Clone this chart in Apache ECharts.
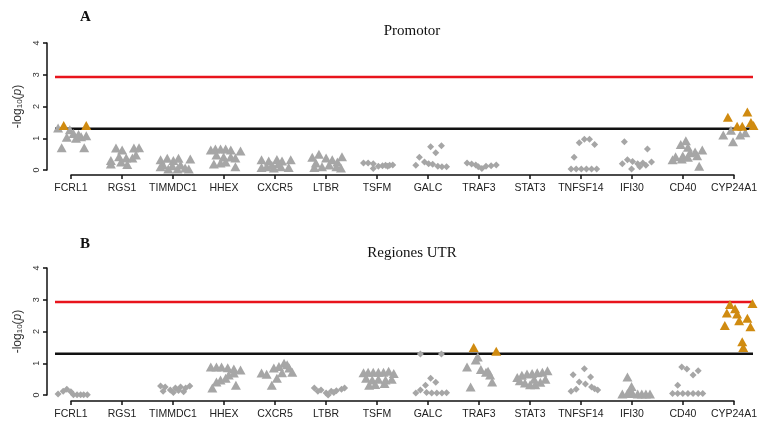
<!DOCTYPE html>
<html>
<head>
<meta charset="utf-8">
<style>
html, body { margin: 0; padding: 0; background: #fff; }
#main { width: 760px; height: 426px; }
</style>
<script src="https://cdn.jsdelivr.net/npm/echarts@6/dist/echarts.min.js"></script>
</head>
<body>
<div id="main"></div>
<script>
// categories and axis ticks
var genes = ['FCRL1','RGS1','TIMMDC1','HHEX','CXCR5','LTBR','TSFM','GALC','TRAF3','STAT3','TNFSF14','IFI30','CD40','CYP24A1'];
var yTicks = [0, 1, 2, 3, 4];
var redLine = 2.93;    // bonferroni threshold
var blackLine = 1.3;   // p = 0.05

// points: [gene, jitter, -log10(p)]
var promTriGray = [
  ['FCRL1',-0.25,1.32],['FCRL1',-0.02,1.27],['FCRL1',0.05,1.15],['FCRL1',-0.08,1.03],['FCRL1',0.1,1.0],
  ['FCRL1',0.2,1.05],['FCRL1',0.3,1.08],['FCRL1',0.15,1.12],['FCRL1',-0.18,0.7],['FCRL1',0.26,0.7],
  ['RGS1',-0.12,0.69],['RGS1',0.0,0.63],['RGS1',0.23,0.69],['RGS1',0.33,0.7],['RGS1',-0.22,0.3],['RGS1',-0.06,0.42],
  ['RGS1',0.08,0.38],['RGS1',0.2,0.38],['RGS1',0.27,0.47],['RGS1',-0.22,0.19],['RGS1',0.1,0.17],['RGS1',-0.02,0.25],
  ['TIMMDC1',-0.25,0.32],['TIMMDC1',-0.12,0.37],['TIMMDC1',0,0.3],['TIMMDC1',0.1,0.37],['TIMMDC1',0.33,0.35],
  ['TIMMDC1',-0.2,0.16],['TIMMDC1',-0.02,0.13],['TIMMDC1',0.14,0.16],['TIMMDC1',0.23,0.06],['TIMMDC1',0.08,0.03],
  ['TIMMDC1',-0.1,0.03],['TIMMDC1',0.3,0.03],['TIMMDC1',-0.25,0.1],
  ['HHEX',-0.27,0.63],['HHEX',-0.18,0.66],['HHEX',-0.08,0.66],['HHEX',0.02,0.66],['HHEX',0.12,0.63],['HHEX',0.31,0.6],
  ['HHEX',-0.16,0.47],['HHEX',-0.02,0.41],['HHEX',0.12,0.41],['HHEX',0.21,0.38],['HHEX',0.02,0.25],['HHEX',-0.21,0.19],
  ['HHEX',-0.08,0.22],['HHEX',0.21,0.1],
  ['CXCR5',-0.28,0.32],['CXCR5',-0.14,0.28],['CXCR5',0.02,0.33],['CXCR5',0.12,0.28],['CXCR5',0.29,0.32],['CXCR5',-0.18,0.1],
  ['CXCR5',-0.04,0.06],['CXCR5',0.1,0.1],['CXCR5',0.25,0.08],['CXCR5',-0.28,0.08],['CXCR5',0.05,0.2],['CXCR5',-0.08,0.15],
  ['LTBR',-0.29,0.4],['LTBR',-0.16,0.5],['LTBR',-0.02,0.38],['LTBR',0.1,0.32],['LTBR',0.29,0.42],['LTBR',-0.22,0.22],
  ['LTBR',-0.1,0.1],['LTBR',0.04,0.16],['LTBR',0.18,0.1],['LTBR',0.27,0.06],['LTBR',-0.25,0.08],['LTBR',0.2,0.25],
  ['CD40',0.0,0.92],['CD40',-0.1,0.8],['CD40',0.04,0.72],['CD40',0.18,0.57],['CD40',0.32,0.63],['CD40',-0.2,0.42],
  ['CD40',-0.06,0.44],['CD40',0.08,0.54],['CD40',0.22,0.45],['CD40',-0.26,0.32],['CD40',-0.08,0.35],['CD40',0.04,0.4],
  ['CD40',0.26,0.12],
  ['CYP24A1',-0.27,1.1],['CYP24A1',-0.12,1.25],['CYP24A1',-0.08,0.89],['CYP24A1',0.06,1.1],['CYP24A1',0.16,1.17]
];
var promDiaGray = [
  ['TSFM',-0.29,0.22],['TSFM',-0.2,0.22],['TSFM',-0.1,0.2],['TSFM',-0.1,0.05],['TSFM',0.0,0.12],['TSFM',0.08,0.13],
  ['TSFM',0.14,0.15],['TSFM',0.22,0.15],['TSFM',0.28,0.16],['TSFM',0.18,0.12],
  ['GALC',0.02,0.73],['GALC',0.23,0.76],['GALC',0.12,0.54],['GALC',-0.2,0.4],['GALC',-0.1,0.25],['GALC',-0.27,0.15],
  ['GALC',-0.02,0.2],['GALC',0.06,0.18],['GALC',0.16,0.12],['GALC',0.24,0.1],['GALC',0.33,0.1],
  ['TRAF3',-0.27,0.22],['TRAF3',-0.18,0.19],['TRAF3',-0.05,0.1],['TRAF3',0.02,0.05],['TRAF3',0.1,0.12],
  ['TRAF3',0.2,0.13],['TRAF3',0.3,0.16],['TRAF3',-0.1,0.16],
  ['TNFSF14',-0.08,0.86],['TNFSF14',0.02,0.97],['TNFSF14',0.12,0.97],['TNFSF14',0.22,0.8],['TNFSF14',-0.18,0.4],
  ['TNFSF14',-0.24,0.03],['TNFSF14',-0.14,0.03],['TNFSF14',-0.04,0.03],['TNFSF14',0.06,0.03],['TNFSF14',0.16,0.03],
  ['TNFSF14',0.26,0.03],
  ['IFI30',-0.2,0.89],['IFI30',0.25,0.66],['IFI30',-0.24,0.2],['IFI30',-0.14,0.32],['IFI30',-0.04,0.27],['IFI30',0.06,0.2],
  ['IFI30',0.16,0.22],['IFI30',0.33,0.25],['IFI30',-0.06,0.03],['IFI30',0.1,0.1],['IFI30',0.22,0.15]
];
var promTriOrange = [
  ['FCRL1',-0.14,1.4],['FCRL1',0.3,1.4],
  ['CYP24A1',-0.18,1.66],['CYP24A1',0.2,1.83],['CYP24A1',0.0,1.38],['CYP24A1',0.1,1.38],['CYP24A1',0.27,1.5],['CYP24A1',0.32,1.4]
];

var utrTriGray = [
  ['HHEX',-0.27,0.88],['HHEX',-0.16,0.88],['HHEX',-0.06,0.88],['HHEX',0.06,0.86],['HHEX',0.18,0.82],['HHEX',0.31,0.79],
  ['HHEX',0.08,0.63],['HHEX',0.18,0.69],['HHEX',0.02,0.53],['HHEX',-0.08,0.47],['HHEX',-0.16,0.41],['HHEX',-0.24,0.22],
  ['HHEX',0.22,0.31],
  ['CXCR5',-0.28,0.69],['CXCR5',-0.18,0.65],['CXCR5',-0.04,0.85],['CXCR5',0.06,0.9],['CXCR5',0.16,1.0],['CXCR5',0.26,0.85],
  ['CXCR5',0.32,0.72],['CXCR5',0.12,0.7],['CXCR5',0.02,0.53],['CXCR5',-0.08,0.31],['CXCR5',0.22,0.95],
  ['TSFM',-0.29,0.7],['TSFM',-0.2,0.72],['TSFM',-0.1,0.72],['TSFM',0.0,0.72],['TSFM',0.1,0.72],['TSFM',0.2,0.75],
  ['TSFM',0.3,0.68],['TSFM',-0.24,0.53],['TSFM',-0.12,0.47],['TSFM',0.0,0.5],['TSFM',0.14,0.47],['TSFM',0.26,0.5],
  ['TSFM',-0.18,0.31],['TSFM',-0.06,0.33],['TSFM',0.12,0.36],
  ['TRAF3',-0.06,1.2],['TRAF3',-0.1,1.1],['TRAF3',-0.27,0.88],['TRAF3',0.0,0.8],['TRAF3',0.1,0.72],['TRAF3',0.18,0.63],
  ['TRAF3',0.22,0.41],['TRAF3',-0.2,0.25],['TRAF3',0.14,0.75],
  ['STAT3',-0.29,0.55],['STAT3',-0.2,0.62],['STAT3',-0.1,0.66],['STAT3',0.0,0.68],['STAT3',0.1,0.7],['STAT3',0.2,0.72],
  ['STAT3',0.3,0.76],['STAT3',-0.24,0.45],['STAT3',-0.14,0.38],['STAT3',-0.04,0.32],['STAT3',0.06,0.32],['STAT3',0.16,0.4],
  ['STAT3',0.26,0.5],['STAT3',0.04,0.5],
  ['IFI30',-0.14,0.57],['IFI30',-0.06,0.27],['IFI30',-0.24,0.03],['IFI30',-0.14,0.05],['IFI30',-0.04,0.05],['IFI30',0.06,0.03],
  ['IFI30',0.14,0.03],['IFI30',0.22,0.03],['IFI30',0.3,0.03],['IFI30',-0.08,0.12]
];
var utrDiaGray = [
  ['FCRL1',-0.25,0.03],['FCRL1',-0.15,0.12],['FCRL1',-0.08,0.18],['FCRL1',0.0,0.1],['FCRL1',0.05,0.01],
  ['FCRL1',0.12,0.01],['FCRL1',0.19,0.01],['FCRL1',0.25,0.01],['FCRL1',0.32,0.01],
  ['TIMMDC1',-0.25,0.28],['TIMMDC1',-0.16,0.25],['TIMMDC1',-0.06,0.16],['TIMMDC1',0.04,0.22],['TIMMDC1',0.14,0.25],
  ['TIMMDC1',0.24,0.22],['TIMMDC1',0.32,0.28],['TIMMDC1',-0.2,0.12],['TIMMDC1',0.0,0.08],['TIMMDC1',0.2,0.1],['TIMMDC1',0.1,0.14],
  ['LTBR',-0.25,0.22],['LTBR',-0.12,0.16],['LTBR',-0.02,0.06],['LTBR',0.08,0.12],['LTBR',0.18,0.13],['LTBR',0.28,0.18],
  ['LTBR',0.34,0.22],['LTBR',-0.18,0.12],['LTBR',0.02,0.0],['LTBR',0.13,0.08],
  ['GALC',-0.18,1.29],['GALC',0.23,1.29],['GALC',0.02,0.53],['GALC',0.12,0.4],['GALC',-0.08,0.31],['GALC',-0.18,0.16],
  ['GALC',-0.27,0.06],['GALC',-0.06,0.08],['GALC',0.04,0.06],['GALC',0.14,0.06],['GALC',0.24,0.06],['GALC',0.33,0.07],
  ['TNFSF14',0.02,0.83],['TNFSF14',-0.2,0.64],['TNFSF14',0.14,0.57],['TNFSF14',-0.08,0.41],['TNFSF14',0.04,0.35],
  ['TNFSF14',0.16,0.25],['TNFSF14',0.28,0.16],['TNFSF14',-0.24,0.12],['TNFSF14',-0.14,0.18],['TNFSF14',0.22,0.2],
  ['CD40',-0.08,0.88],['CD40',0.02,0.82],['CD40',0.24,0.76],['CD40',0.14,0.63],['CD40',-0.16,0.31],['CD40',-0.26,0.05],
  ['CD40',-0.16,0.05],['CD40',-0.06,0.05],['CD40',0.04,0.05],['CD40',0.14,0.05],['CD40',0.24,0.05],['CD40',0.33,0.05]
];
var utrTriOrange = [
  ['TRAF3',-0.14,1.5],['TRAF3',0.3,1.38],
  ['CYP24A1',-0.14,2.85],['CYP24A1',-0.04,2.72],['CYP24A1',0.3,2.88],['CYP24A1',-0.2,2.58],['CYP24A1',0.0,2.55],
  ['CYP24A1',0.04,2.34],['CYP24A1',0.2,2.42],['CYP24A1',-0.24,2.19],['CYP24A1',0.26,2.15],['CYP24A1',0.1,1.68],
  ['CYP24A1',0.12,1.5]
];

var GRAY = '#a6a6a6';
var ORANGE = '#d08b10';
// data area runs a bit past the first/last gene, like the threshold lines
var X_MIN = -0.31, X_MAX = genes.length - 1 + 0.31;

function pts(arr) {
    return arr.map(function (d) { return [genes.indexOf(d[0]) + d[1], d[2]]; });
}

function scatter(idx, arr, symbol, color, size) {
    return {
        type: 'scatter', xAxisIndex: idx, yAxisIndex: idx,
        symbol: symbol, symbolSize: size, clip: false, silent: true,
        itemStyle: { color: color, opacity: 1 },
        data: pts(arr), z: 3
    };
}

function hline(idx, y, color) {
    return {
        type: 'line', xAxisIndex: idx, yAxisIndex: idx, silent: true,
        symbol: 'none', lineStyle: { color: color, width: 2.5 },
        data: [[X_MIN, y], [X_MAX, y]], z: 2
    };
}

// hidden x axis of the data grids
function xDataAxis(idx) {
    return { type: 'value', gridIndex: idx, min: X_MIN, max: X_MAX, show: false };
}

// visible gene axis, drawn only from first to last gene (R style)
function xGeneAxis(idx, off) {
    return {
        type: 'category', gridIndex: idx, data: genes, boundaryGap: false, offset: off,
        axisLine: { onZero: false, lineStyle: { color: '#111', width: 1.5 } },
        axisTick: { length: 4, alignWithLabel: true, lineStyle: { color: '#111', width: 1.5 } },
        axisLabel: { color: '#222', fontFamily: 'Liberation Sans', fontSize: 10.5, margin: 8, interval: 0 },
        splitLine: { show: false }
    };
}

function yAxisCfg(idx) {
    return {
        type: 'value', gridIndex: idx, min: 0, max: 4, interval: 1, offset: 8,
        name: '-log{s|10}({i|p})', nameLocation: 'middle', nameRotate: 90, nameGap: 17,
        nameTextStyle: {
            color: '#333', fontFamily: 'Liberation Sans', fontSize: 12,
            rich: {
                s: { fontSize: 8, verticalAlign: 'bottom', color: '#333', fontFamily: 'Liberation Sans', padding: [4, 0, 0, 0] },
                i: { fontSize: 12, fontStyle: 'italic', color: '#333', fontFamily: 'Liberation Sans' }
            }
        },
        axisLine: { show: true, onZero: false, lineStyle: { color: '#111', width: 1.5 } },
        axisTick: { show: true, length: 4, lineStyle: { color: '#111', width: 1.5 } },
        axisLabel: { rotate: 90, color: '#333', fontFamily: 'Liberation Sans', fontSize: 9, margin: 6 },
        splitLine: { show: false },
        customValues: yTicks
    };
}

function yHidden(idx) {
    return { type: 'value', gridIndex: idx, min: 0, max: 4, show: false };
}

var chart = echarts.init(document.getElementById('main'), null, { renderer: 'canvas' });
var option = {
    backgroundColor: '#fff',
    animation: false,
    title: [
        { text: 'A', left: 75, top: 5, textStyle: { fontFamily: 'Liberation Serif', fontWeight: 'bold', fontSize: 15, color: '#111' } },
        { text: 'Promotor', left: 407, top: 19, textAlign: 'center', textStyle: { fontFamily: 'Liberation Serif', fontWeight: 'normal', fontSize: 15, color: '#111' } },
        { text: 'B', left: 75, top: 232, textStyle: { fontFamily: 'Liberation Serif', fontWeight: 'bold', fontSize: 15, color: '#111' } },
        { text: 'Regiones UTR', left: 407, top: 241, textAlign: 'center', textStyle: { fontFamily: 'Liberation Serif', fontWeight: 'normal', fontSize: 15, color: '#111' } }
    ],
    grid: [
        { left: 55, right: 7, top: 43, height: 127 },
        { left: 55, right: 7, top: 268, height: 127 },
        { left: 71, right: 23, top: 43, height: 127 },
        { left: 71, right: 23, top: 268, height: 127 }
    ],
    xAxis: [xDataAxis(0), xDataAxis(1), xGeneAxis(2, 5), xGeneAxis(3, 6)],
    yAxis: [yAxisCfg(0), yAxisCfg(1), yHidden(2), yHidden(3)],
    series: [
        hline(0, redLine, '#e8141c'),
        hline(0, blackLine, '#111'),
        scatter(0, promTriGray, 'triangle', GRAY, [10, 9]),
        scatter(0, promDiaGray, 'diamond', GRAY, [7, 7]),
        scatter(0, promTriOrange, 'triangle', ORANGE, [10, 9]),
        hline(1, redLine, '#e8141c'),
        hline(1, blackLine, '#111'),
        scatter(1, utrTriGray, 'triangle', GRAY, [10, 9]),
        scatter(1, utrDiaGray, 'diamond', GRAY, [7, 7]),
        scatter(1, utrTriOrange, 'triangle', ORANGE, [10, 9])
    ]
};
chart.setOption(option);
</script>
</body>
</html>
